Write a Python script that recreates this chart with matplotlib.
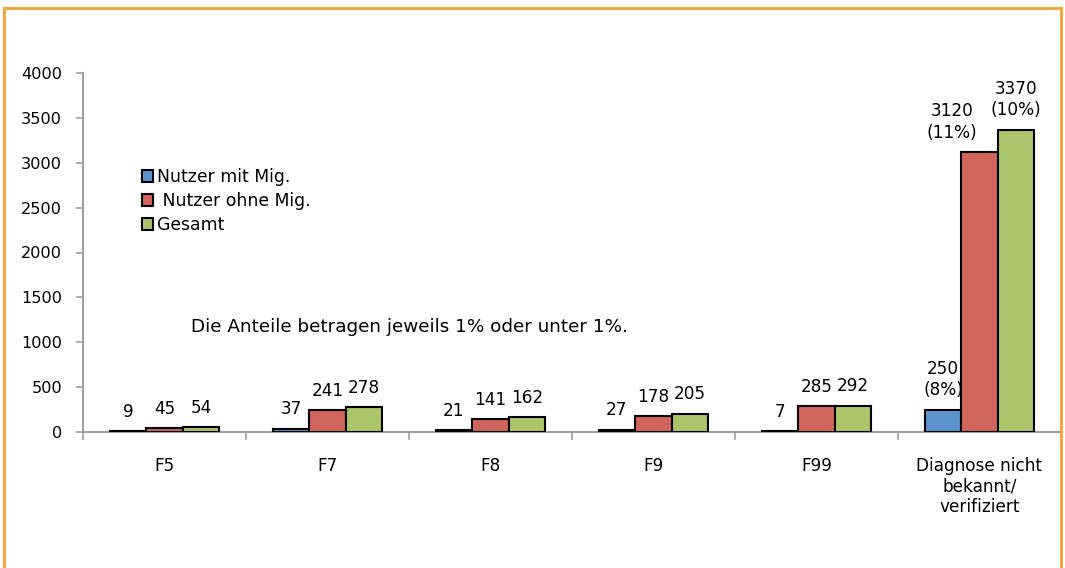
import matplotlib
matplotlib.use("Agg")
import matplotlib.pyplot as plt
import numpy as np
from matplotlib.patches import Rectangle

categories = ["F5", "F7", "F8", "F9", "F99", "Diagnose nicht\nbekannt/\nverifiziert"]
series_names = ["Nutzer mit Mig.", " Nutzer ohne Mig.", "Gesamt"]
mit_mig = [9, 37, 21, 27, 7, 250]
ohne_mig = [45, 241, 141, 178, 285, 3120]
gesamt = [54, 278, 162, 205, 292, 3370]
label_extra = {(0, 5): "\n(8%)", (1, 5): "\n(11%)", (2, 5): "\n(10%)"}
y_ticks = [0, 500, 1000, 1500, 2000, 2500, 3000, 3500, 4000]
note = "Die Anteile betragen jeweils 1% oder unter 1%."

colors = ["#5b93cf", "#d0655d", "#aac56a"]

plt.rcParams['font.family'] = ['DejaVu Sans']
fig = plt.figure(figsize=(10.65, 5.68), dpi=100)
ax = fig.add_axes([83/1065, 1-432/568, (1061-83)/1065, (432-73)/568])

x = np.arange(len(categories))
w = 0.224
data = [mit_mig, ohne_mig, gesamt]
for i, (vals, name, c) in enumerate(zip(data, series_names, colors)):
    pos = x + (i - 1) * w
    ax.bar(pos, vals, width=w, color=c, edgecolor="black", linewidth=1.5,
           label=name, zorder=3)
    for j, (p, v) in enumerate(zip(pos, vals)):
        txt = str(v) + label_extra.get((i, j), "")
        dx = -20 if (i, j) == (1, 5) else 0
        ax.annotate(txt, (p, v), xytext=(dx, 7.5), textcoords="offset points",
                    ha="center", va="bottom", fontsize=12.2, linespacing=1.22)

ax.set_xlim(-0.5, len(categories) - 0.5)
ax.set_ylim(0, 4000)
ax.set_yticks(y_ticks)
ax.tick_params(axis="y", length=5, width=1.2, color="#a0a0a0", pad=10, labelsize=11.6)
ax.set_xticks(x)
ax.set_xticklabels(categories, fontsize=12.2, linespacing=1.18)
ax.tick_params(axis="x", length=0, pad=18)
ax.set_xticks(np.arange(len(categories) + 1) - 0.5, minor=True)
ax.tick_params(axis="x", which="minor", length=6, width=1.2, color="#a0a0a0")
for s in ["top", "right"]:
    ax.spines[s].set_visible(False)
for s in ["left", "bottom"]:
    ax.spines[s].set_color("#a0a0a0")
    ax.spines[s].set_linewidth(1.5)

leg = ax.legend(loc="upper left", bbox_to_anchor=(0.053, 0.755), frameon=False,
                fontsize=12.4, handlelength=0.65, handleheight=0.65, handletextpad=0.25,
                labelspacing=0.36, borderaxespad=0)
for h in leg.legend_handles:
    h.set_linewidth(1.5)

ax.text(409/1065, 1-327/568, note, transform=fig.transFigure, ha="center",
        va="center", fontsize=13.2)

fig.patches.append(Rectangle((4/1065, -0.05), (1061-4)/1065, 1.05 - 8/568,
                             transform=fig.transFigure, fill=False,
                             edgecolor="#f5a742", linewidth=2.2))

fig.savefig("out.png", dpi=100)
